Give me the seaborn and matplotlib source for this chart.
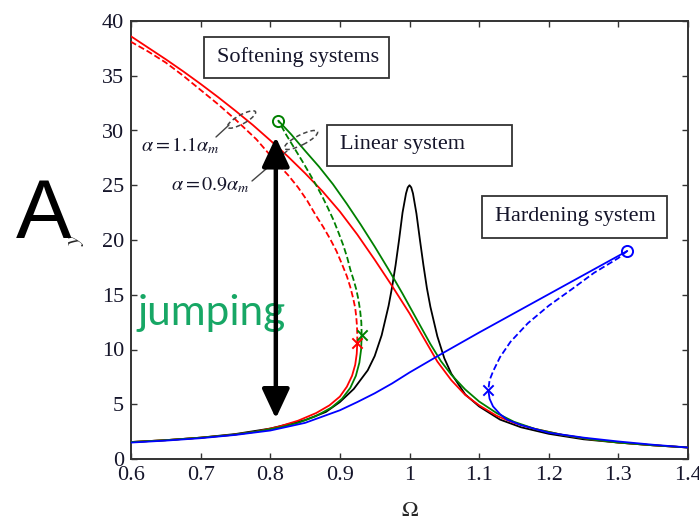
import matplotlib
matplotlib.use("Agg")
import matplotlib.pyplot as plt
import pandas as pd
import seaborn as sns
from matplotlib.patches import Rectangle, Ellipse, FancyArrowPatch
from matplotlib.transforms import IdentityTransform

# ---- frequency-response branches (Omega, amplitude y) ----
# linear system
lin_w = [0.60, 0.65, 0.70, 0.75, 0.80, 0.85, 0.88, 0.90, 0.92, 0.94, 0.95, 0.96, 0.97,
         0.975, 0.98, 0.985, 0.99, 0.995, 0.9975, 1.00, 1.0025, 1.005, 1.01, 1.015,
         1.02, 1.025, 1.03, 1.04, 1.05, 1.06, 1.08, 1.10, 1.13, 1.16, 1.20, 1.25,
         1.30, 1.35, 1.40]
lin_y = [1.55, 1.72, 1.95, 2.28, 2.78, 3.55, 4.3, 5.2, 6.4, 8.1, 9.4, 11.3, 14.0,
         15.7, 17.7, 20.0, 22.5, 24.25, 24.8, 25.0, 24.8, 24.25, 22.4, 20.0,
         17.7, 15.6, 13.9, 11.2, 9.2, 7.8, 5.9, 4.8, 3.6, 2.9, 2.3, 1.8,
         1.5, 1.25, 1.05]

# softening, alpha = 0.9 alpha_m (green)
g_low_w = [0.60, 0.65, 0.70, 0.745, 0.78, 0.815, 0.84, 0.865, 0.888, 0.903, 0.915,
           0.923, 0.928, 0.9305, 0.9313]
g_low_y = [1.55, 1.72, 1.95, 2.2, 2.5, 2.9, 3.3, 3.9, 4.7, 5.5, 6.5,
           7.6, 8.8, 10.0, 11.3]
g_mid_w = [0.9313, 0.9308, 0.929, 0.9265, 0.9235, 0.9195, 0.915, 0.9105, 0.905,
           0.8985, 0.891, 0.883, 0.8745, 0.866, 0.857, 0.846, 0.8345, 0.823, 0.8116]
g_mid_y = [11.3, 12.5, 13.6, 14.6, 15.5, 16.4, 17.3, 18.4, 19.5,
           20.6, 21.8, 22.9, 24.0, 25.0, 26.0, 27.2, 28.4, 29.6, 30.9]
g_up_w = [0.8116, 0.83, 0.85, 0.87, 0.89, 0.91, 0.93, 0.95, 0.97, 0.99, 1.01, 1.03,
          1.045, 1.06, 1.08, 1.10, 1.125, 1.15, 1.18, 1.22, 1.26, 1.30, 1.35, 1.40]
g_up_y = [30.9, 29.65, 28.15, 26.7, 25.1, 23.3, 21.4, 19.4, 17.3, 15.1, 12.8, 10.5,
          8.95, 7.7, 6.35, 5.25, 4.2, 3.4, 2.75, 2.2, 1.8, 1.5, 1.25, 1.05]

# softening, alpha = 1.1 alpha_m (red)
r_low_w = [0.60, 0.65, 0.70, 0.745, 0.78, 0.812, 0.84, 0.866, 0.885, 0.90, 0.91,
           0.9175, 0.922, 0.9242, 0.925]
r_low_y = [1.55, 1.72, 1.95, 2.2, 2.5, 2.95, 3.5, 4.2, 4.9, 5.7, 6.6,
           7.6, 8.6, 9.6, 10.6]
r_mid_w = [0.925, 0.925, 0.9245, 0.9235, 0.922, 0.919, 0.915, 0.91, 0.903, 0.895,
           0.886, 0.876, 0.865, 0.853, 0.84, 0.826, 0.81, 0.795, 0.78, 0.765,
           0.75, 0.725, 0.70, 0.675, 0.65, 0.625, 0.60]
r_mid_y = [10.6, 11.4, 12.2, 13.0, 13.8, 14.7, 15.7, 16.7, 17.8, 19.0,
           20.1, 21.2, 22.3, 23.6, 24.8, 25.9, 27.0, 28.1, 29.2, 30.1,
           31.0, 32.4, 33.7, 35.0, 36.2, 37.2, 38.1]
r_up_w = [0.600, 0.625, 0.650, 0.675, 0.700, 0.725, 0.750, 0.775, 0.800, 0.825, 0.850,
          0.875, 0.900, 0.925, 0.950, 0.975, 1.000, 1.020, 1.040, 1.060, 1.080, 1.100,
          1.125, 1.150, 1.180, 1.220, 1.260, 1.300, 1.350, 1.400]
r_up_y = [38.6, 37.55, 36.5, 35.4, 34.25, 33.05, 31.8, 30.5, 29.1, 27.65, 26.1,
          24.45, 22.6, 20.5, 18.2, 15.8, 13.3, 11.1, 8.9, 7.2, 5.85, 4.9,
          3.95, 3.3, 2.75, 2.2, 1.8, 1.5, 1.25, 1.05]

# hardening (blue)
b_up_w = [0.60, 0.65, 0.70, 0.75, 0.80, 0.85, 0.90, 0.925, 0.95, 0.975, 1.00, 1.05,
          1.10, 1.15, 1.20, 1.25, 1.30, 1.3128]
b_up_y = [1.5, 1.68, 1.9, 2.2, 2.6, 3.3, 4.45, 5.2, 6.0, 6.9, 7.9, 9.75,
          11.55, 13.3, 15.05, 16.8, 18.55, 19.0]
b_mid_w = [1.3128, 1.30, 1.265, 1.233, 1.20, 1.17, 1.145, 1.13, 1.12, 1.115, 1.1132]
b_mid_y = [19.0, 18.35, 17.0, 15.5, 14.0, 12.4, 10.7, 9.3, 8.0, 7.2, 6.3]
b_low_w = [1.1132, 1.115, 1.12, 1.13, 1.14, 1.16, 1.20, 1.25, 1.30, 1.35, 1.40]
b_low_y = [6.3, 5.5, 4.8, 4.1, 3.6, 3.1, 2.4, 1.95, 1.6, 1.3, 1.05]

# turning points
peak_w = [0.8116, 1.3128]
peak_y = [30.9, 19.0]
peak_c = ["green", "blue"]
jump_w = [0.925, 0.9313, 1.1132]
jump_y = [10.6, 11.3, 6.3]
jump_c = ["red", "green", "blue"]

x_ticks = [0.6, 0.7, 0.8, 0.9, 1.0, 1.1, 1.2, 1.3, 1.4]
x_tick_labels = ["0.6", "0.7", "0.8", "0.9", "1", "1.1", "1.2", "1.3", "1.4"]
y_ticks = [0, 5, 10, 15, 20, 25, 30, 35, 40]

sns.set_theme(style="ticks")
plt.rcParams["font.family"] = ["Liberation Serif", "DejaVu Serif"]
plt.rcParams["mathtext.fontset"] = "stix"

W, H = 699, 517
fig = plt.figure(figsize=(W / 100, H / 100), dpi=100)
L, R, T, B = 131, 688, 21, 459
ax = fig.add_axes([L / W, 1 - B / H, (R - L) / W, (B - T) / H])

solid = "-"
dashed = (0, (3.5, 1.6))
branches = [
    (lin_w, lin_y, "black", solid),
    (r_low_w, r_low_y, "red", solid),
    (r_mid_w, r_mid_y, "red", dashed),
    (r_up_w, r_up_y, "red", solid),
    (g_low_w, g_low_y, "green", solid),
    (g_mid_w, g_mid_y, "green", dashed),
    (g_up_w, g_up_y, "green", solid),
    (b_up_w, b_up_y, "blue", solid),
    (b_mid_w, b_mid_y, "blue", dashed),
    (b_low_w, b_low_y, "blue", solid),
]
for w, y, c, ls in branches:
    df = pd.DataFrame({"Omega": w, "y": y})
    sns.lineplot(data=df, x="Omega", y="y", sort=False, estimator=None,
                 color=c, linewidth=1.3, linestyle=ls, ax=ax, zorder=3)

for w, y, c in zip(peak_w, peak_y, peak_c):
    ax.plot([w], [y], marker="o", ms=8, mfc="none", mec=c, mew=1.4, zorder=4)
for w, y, c in zip(jump_w, jump_y, jump_c):
    sns.scatterplot(x=[w], y=[y], marker="x", s=55, color=c, linewidth=1.4, ax=ax, zorder=4)

ax.set_xlim(0.6, 1.4)
ax.set_ylim(0, 40)
ax.set_xticks(x_ticks)
ax.set_xticklabels(x_tick_labels)
ax.set_yticks(y_ticks)
ax.tick_params(direction="in", top=True, right=True, length=4, width=1.0,
               labelsize=16, pad=5, color="#333333", labelcolor="#15152a")
for s in ax.spines.values():
    s.set_color("#333333")
    s.set_linewidth(1.4)

ax.set_xlabel(r"$\Omega$", fontsize=16)
ax.xaxis.set_label_coords((410 - L) / (R - L), (B - 502) / (B - T))
ax.set_ylabel(r"$y$", fontsize=16)
ax.yaxis.set_label_coords((86 - L) / (R - L), 0.5)


def ax_box(px0, py0, px1, py1):
    return ((px0 - L) / (R - L), (B - py1) / (B - T),
            (px1 - px0) / (R - L), (py1 - py0) / (B - T))


def ax_pt(px, py):
    return ((px - L) / (R - L), (B - py) / (B - T))


# labelled boxes
boxes = [
    ((204, 37, 389, 78), "Softening systems", (217, 57)),
    ((327, 125, 512, 166), "Linear system", (340, 145)),
    ((482, 196, 667, 238), "Hardening system", (495, 217)),
]
for (x0, y0, x1, y1), txt, (tx, ty) in boxes:
    bx, by, bw, bh = ax_box(x0, y0, x1, y1)
    ax.add_patch(Rectangle((bx, by), bw, bh, transform=ax.transAxes,
                           facecolor="white", edgecolor="#333333", lw=1.3, zorder=6))
    px, py = ax_pt(tx, ty)
    ax.text(px, py, txt, transform=ax.transAxes, ha="left", va="center",
            fontsize=16, color="#15152a", zorder=7)

# alpha labels with dashed ellipses and leaders (pixel positions)
def disp(px, py):
    return (px, H - py)

for (cx, cy, length, minor, ang) in [(241.5, 119.5, 32, 9, 29), (301, 140, 37, 10, 27)]:
    ax.add_patch(Ellipse(disp(cx, cy), length, minor, angle=ang,
                         transform=IdentityTransform(), fill=False,
                         edgecolor="#444444", lw=1.1, linestyle=(0, (3, 2)), zorder=5))
for (p0, p1) in [((216, 137), (229, 125)), ((252, 181), (287, 151))]:
    a, b = disp(*p0), disp(*p1)
    ax.add_line(plt.Line2D([a[0], b[0]], [a[1], b[1]], transform=IdentityTransform(),
                           color="#444444", lw=1.0, zorder=5))

px, py = ax_pt(180, 146)
ax.text(px, py, r"$\alpha = 1.1\alpha_m$", transform=ax.transAxes, ha="center",
        va="center", fontsize=14.5, color="#15152a", zorder=7)
px, py = ax_pt(210, 185)
ax.text(px, py, r"$\alpha = 0.9\alpha_m$", transform=ax.transAxes, ha="center",
        va="center", fontsize=14.5, color="#15152a", zorder=7)

# jump annotation
px, py = ax_pt(138, 325)
ax.text(px, py, "jumping", transform=ax.transAxes, ha="left", va="baseline",
        fontsize=30.5, color="#17a765", family=["Lato", "DejaVu Sans"], zorder=8)
ax.add_patch(FancyArrowPatch((0.808, 29.4), (0.808, 3.7),
                             arrowstyle="<|-|>,head_length=0.9,head_width=0.42",
                             mutation_scale=20, lw=3.2, color="black",
                             shrinkA=0, shrinkB=0, zorder=9))

fig.text(44 / W, 1 - 238 / H, "A", ha="center", va="baseline", fontsize=60,
         family=["Liberation Sans", "DejaVu Sans"], color="black")

fig.savefig("out.png", dpi=100)
